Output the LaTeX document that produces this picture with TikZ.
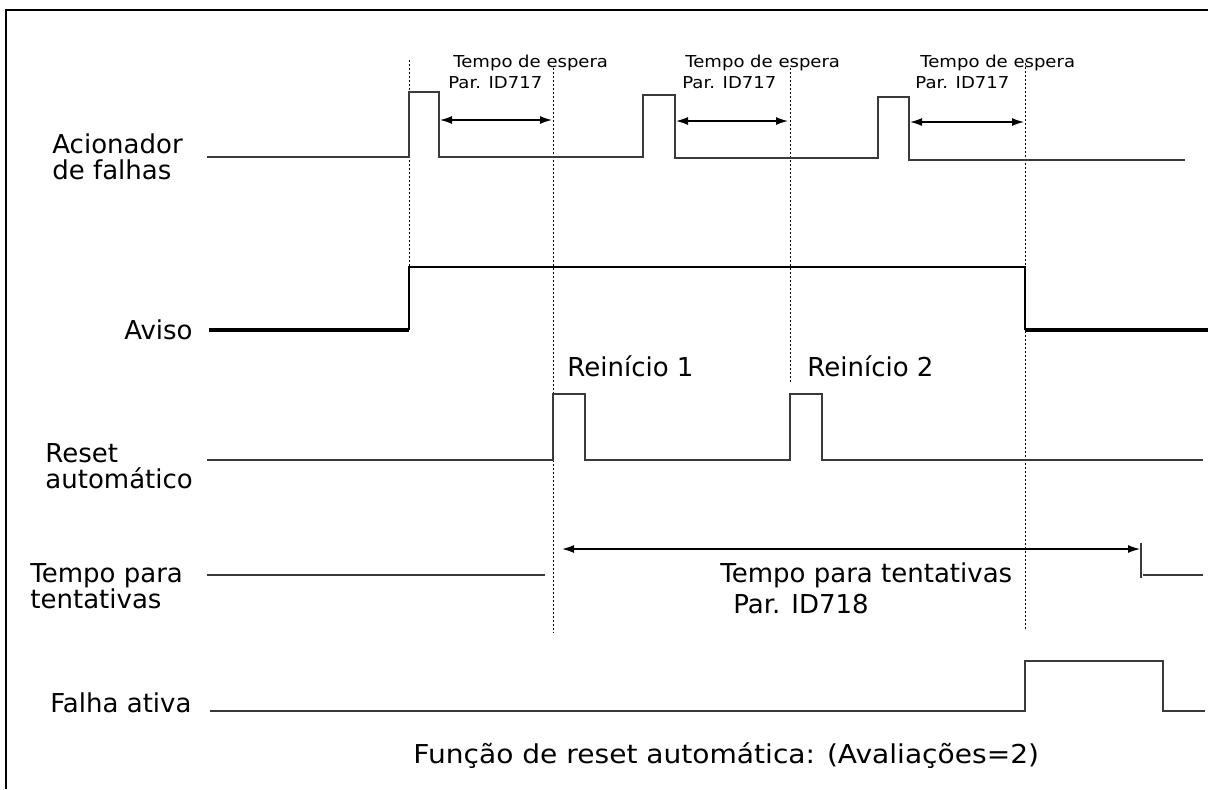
\documentclass[tikz,border=0pt]{standalone}
\usepackage{fontspec}
\setmainfont{DejaVu Sans}
\newfontfamily\widefont[FakeStretch=1.1]{DejaVu Sans}
\newfontfamily\capfont[FakeStretch=1.08]{DejaVu Sans}
\usetikzlibrary{arrows.meta,positioning}
\definecolor{trace}{HTML}{3A3A3A}

\begin{document}
\begin{tikzpicture}[x=0.5pt,y=-0.5pt,
    sig/.style={draw=trace,line width=0.8pt},
    sigbold/.style={draw=black,line width=1.6pt},
    guide/.style={draw=black,line width=0.5pt,dash pattern=on 1pt off 1pt},
    span/.style={draw=black,line width=0.7pt,{Latex[length=6pt,width=4pt]}-{Latex[length=6pt,width=4pt]}},
    lbl/.style={inner sep=0pt,font=\fontsize{13}{13}\selectfont},
    small/.style={inner sep=0pt,font=\widefont\fontsize{8.2}{10}\selectfont}]
  \useasboundingbox (0,0) rectangle (1208,789);

  % frame
  \draw[line width=1pt] (6,789) -- (6,10) -- (1208,10);

  % signal names
  \node[lbl,align=left,anchor=west] (trig) at (52,157) {Acionador\\de falhas};
  \node[lbl,anchor=base east] (warn) at (193,339) {Aviso};
  \node[lbl,align=left,anchor=west] (reset) at (45,466) {Reset\\automático};
  \node[lbl,align=left,anchor=west] (trial) at (30,586) {Tempo para\\tentativas};
  \node[lbl,anchor=base west] (fault) at (50,712) {Falha ativa};

  % guide lines
  \draw[guide] (409,60) -- (409,267);
  \draw[guide] (553,68) -- (553,633);
  \draw[guide] (790,68) -- (790,382);
  \draw[guide] (1025,63) -- (1025,630);

  % fault trigger
  \draw[sig] (207,157) -- (409,157) -- (409,92) -- (439,92) -- (439,157)
    -- (643,157) -- (643,95) -- (675,95) -- (675,158)
    -- (878,158) -- (878,97) -- (909,97) -- (909,160) -- (1185,160);

  % wait time
  \foreach \xa/\xb/\yy/\i in {440/552/120/1,676/788/121/2,910/1024/122/3}{
    \coordinate (w\i a) at (\xa,\yy);
    \coordinate (w\i b) at (\xb,\yy);
    \draw[span] (w\i a) -- (w\i b);
  }
  \node[small,anchor=base west] (wt1) at (453,67) {Tempo de espera};
  \node[small,anchor=base west] (wp1) at (448,88) {Par. ID717};
  \node[small,anchor=base west] (wt2) at (685,67) {Tempo de espera};
  \node[small,anchor=base west] (wp2) at (682,88) {Par. ID717};
  \node[small,anchor=base west] (wt3) at (920,67) {Tempo de espera};
  \node[small,anchor=base west] (wp3) at (915,88) {Par. ID717};

  % warning
  \draw[sigbold] (209,330) -- (409,330);
  \draw[sig,draw=black] (409,330) -- (409,267) -- (1025,267) -- (1025,330);
  \draw[sigbold] (1025,330) -- (1208,330);

  % auto reset
  \node[lbl,anchor=base west] (r1) at (567,376) {Reinício 1};
  \node[lbl,anchor=base west] (r2) at (807,376) {Reinício 2};
  \draw[sig] (207,460) -- (553,460) -- (553,394) -- (585,394) -- (585,460)
    -- (790,460) -- (790,394) -- (822,394) -- (822,460) -- (1203,460);

  % trial time
  \draw[sig] (207,575) -- (545,575);
  \coordinate (ta) at (562,549);
  \coordinate (tb) at (1140,549);
  \draw[span] (ta) -- (tb);
  \draw[sig] (1141,543) -- (1141,578);
  \draw[sig] (1143,575) -- (1203,575);
  \node[lbl,anchor=base west] (tt) at (720,582) {Tempo para tentativas};
  \node[lbl,anchor=base west] (tp) at (733,613) {Par. ID718};

  % active fault
  \draw[sig] (210,711) -- (1025,711) -- (1025,661) -- (1163,661) -- (1163,711) -- (1205,711);

  % caption
  \node[lbl,font=\capfont\fontsize{13}{13}\selectfont,anchor=base west] (cap) at (413,763) {Função de reset automática: (Avaliações=2)};
\end{tikzpicture}
\end{document}
